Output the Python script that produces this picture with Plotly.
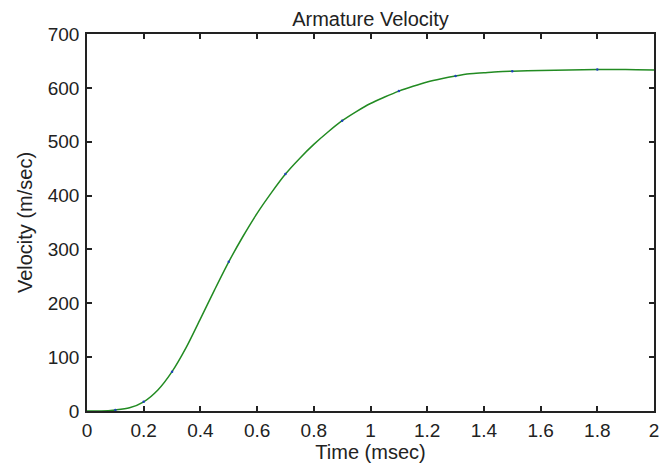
import plotly.graph_objects as go

# time (msec) and armature velocity (m/sec)
time_ms = [0, 0.05, 0.1, 0.15, 0.2, 0.25, 0.3, 0.35, 0.4, 0.45, 0.5, 0.55, 0.6,
           0.65, 0.7, 0.75, 0.8, 0.85, 0.9, 0.95, 1.0, 1.05, 1.1, 1.15, 1.2,
           1.25, 1.3, 1.35, 1.4, 1.45, 1.5, 1.6, 1.7, 1.8, 1.9, 2.0]
velocity = [0, 0, 2, 6, 17, 39, 73, 118, 171, 225, 277, 324, 367,
            405, 440, 469, 495, 518, 539, 556, 571, 583, 594, 603, 611,
            617, 622, 626, 628, 630, 631, 632, 633, 634, 634, 633]

# the small sample dots visible on the line
dot_time = [0.1, 0.2, 0.3, 0.5, 0.7, 0.9, 1.1, 1.3, 1.5, 1.8]
dot_vel = [2, 17, 73, 277, 440, 539, 594, 622, 631, 634]

x_ticks = [0, 0.2, 0.4, 0.6, 0.8, 1, 1.2, 1.4, 1.6, 1.8, 2]
y_ticks = [0, 100, 200, 300, 400, 500, 600, 700]

fig = go.Figure()

fig.add_trace(
    go.Scatter(
        x=time_ms,
        y=velocity,
        mode='lines',
        line=dict(color='#228B22', width=1.5, shape='spline', smoothing=0.8),
        hoverinfo='skip'
    )
)

fig.add_trace(
    go.Scatter(
        x=dot_time,
        y=dot_vel,
        mode='markers',
        marker=dict(color='#2040c0', size=2.5),
        hoverinfo='skip'
    )
)

axis_style = dict(
    showgrid=False,
    zeroline=False,
    showline=True,
    linecolor='#222222',
    linewidth=1.5,
    mirror='ticks',
    ticks='inside',
    ticklen=5,
    tickwidth=1.5,
    tickcolor='#222222',
    tickfont=dict(size=19, color='#222222'),
    automargin=False,
)

# page body has an 8px margin, so the figure is sized 8px smaller
fig.update_layout(
    width=662,
    height=460,
    margin=dict(l=79, r=16, t=26, b=57),
    paper_bgcolor='white',
    plot_bgcolor='white',
    showlegend=False,
    font=dict(family='Liberation Sans, Arial, sans-serif', color='#222222'),
    title=dict(
        text='Armature Velocity',
        x=(79 + 646) / 2 / 662,
        xanchor='center',
        y=1 - 11 / 460,
        yanchor='middle',
        font=dict(size=20, color='#222222')
    ),
    xaxis=dict(
        axis_style,
        range=[0, 2],
        tickvals=x_ticks,
        ticklabelstandoff=1,
        title=dict(text='Time (msec)', font=dict(size=20), standoff=5),
    ),
    yaxis=dict(
        axis_style,
        range=[0, 700],
        tickvals=y_ticks,
        ticklabelstandoff=2,
        title=dict(text='Velocity (m/sec)', font=dict(size=20), standoff=10),
    ),
)

fig.write_html("out.html")
